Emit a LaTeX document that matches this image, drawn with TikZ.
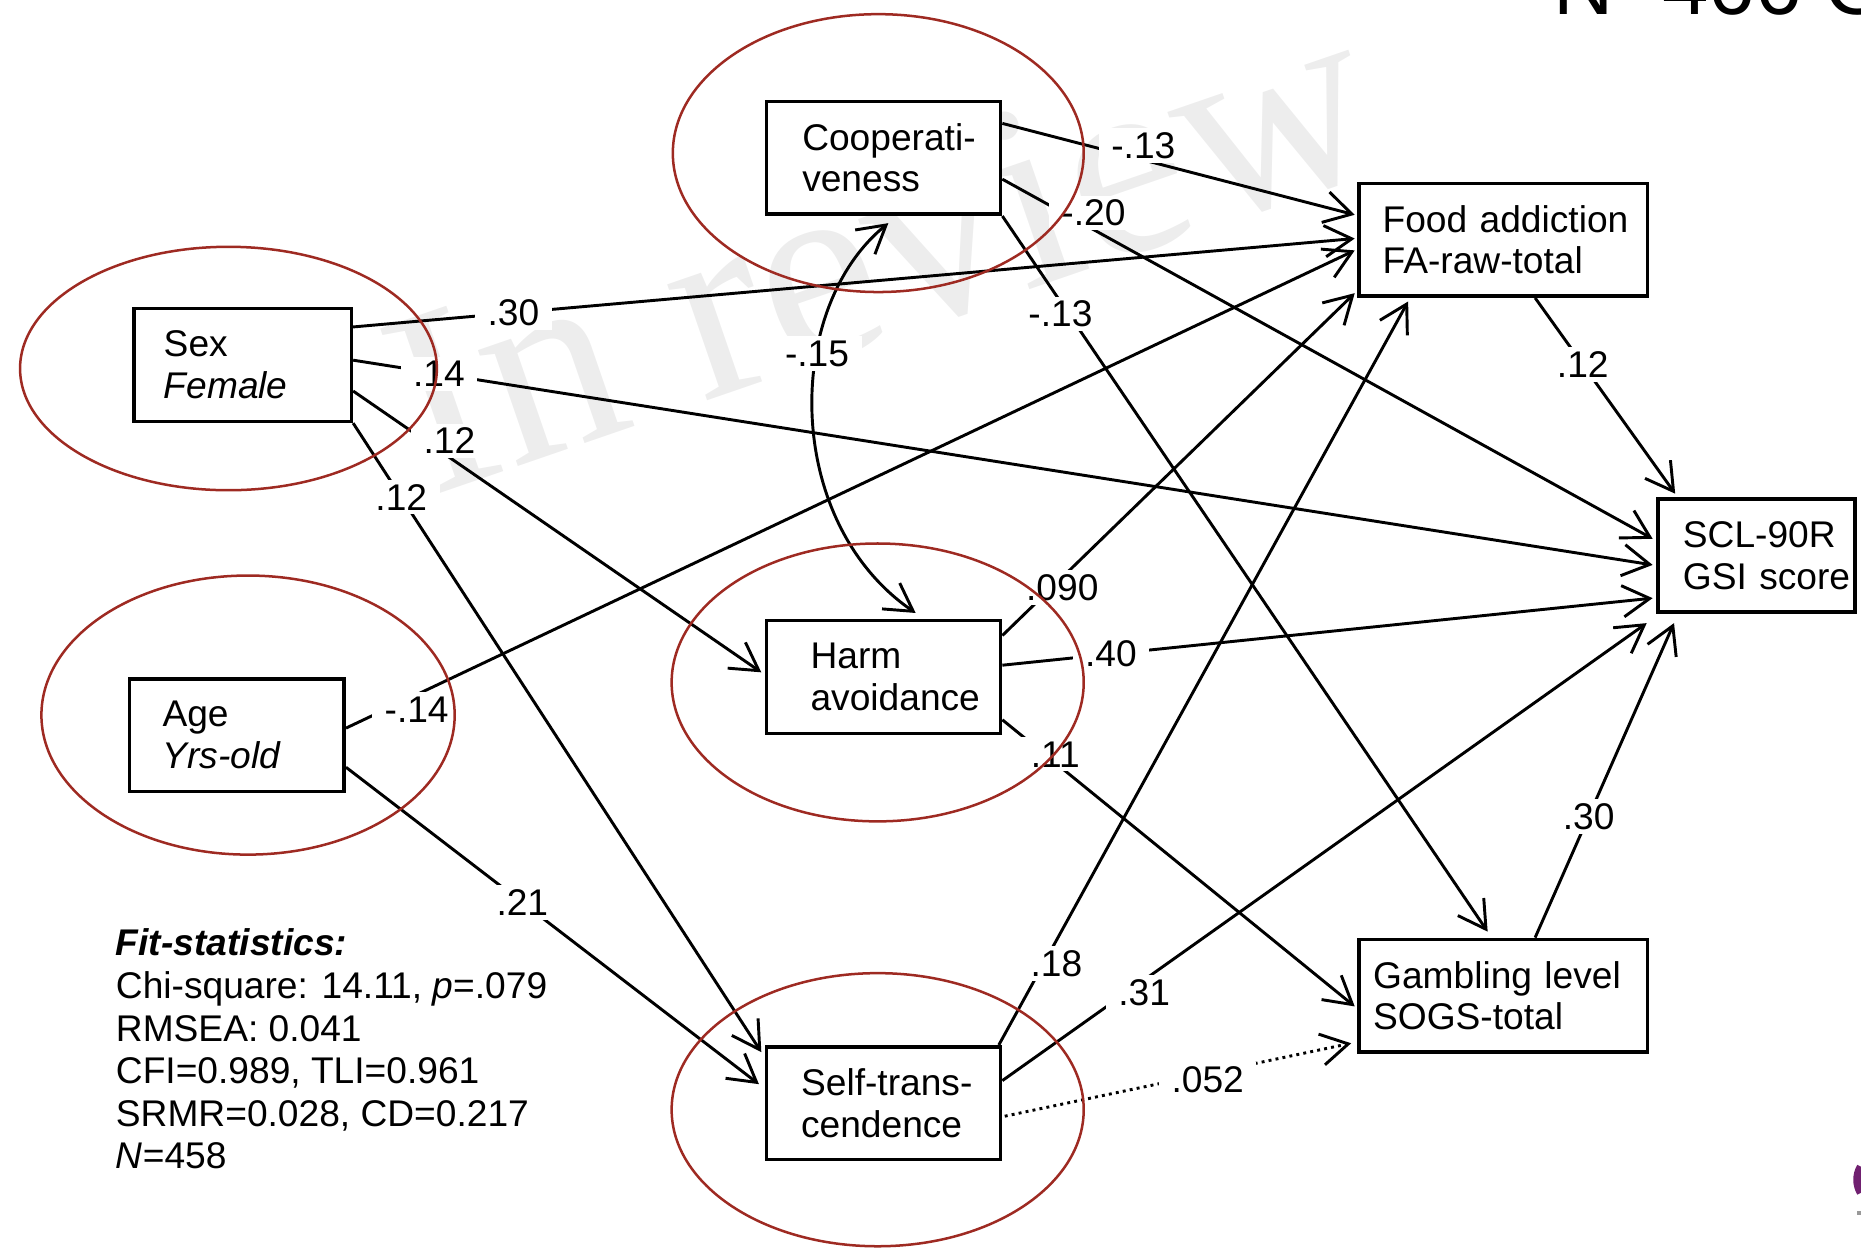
\documentclass[tikz,border=0pt]{standalone}
\usepackage{fontspec}
\setmainfont{Liberation Sans}
\newfontfamily\wmfont{Liberation Serif}
\usetikzlibrary{arrows.meta,calc}
\definecolor{ringred}{RGB}{158,42,34}
\definecolor{logopurple}{RGB}{112,32,112}
\newcommand\fs{\fontsize{8.9}{10}\selectfont}

\begin{document}
\begin{tikzpicture}[x=0.01cm, y=-0.01cm,
  var/.style={draw, line width=0.85pt, fill=white, align=left, inner sep=0pt,
    font=\fs, minimum height=0.95cm},
  pad/.style={execute at begin node={\leftskip=#1\relax}},
  eff/.style={line width=0.7pt, -{Straight Barb[length=6.5pt,width=7.5pt]}},
  coef/.style={fill=white, inner xsep=3pt, inner ysep=1pt, font=\fs},
  ring/.style={draw=ringred, line width=0.6pt}]

\clip (0,0) rectangle (1568,1052); %% page

%% watermark
\node[rotate=19, text=black!7, font=\wmfont\fontsize{64}{64}\selectfont]
  (wm) at (742,210) {In review};

%% heading, cut by the top edge
\node[anchor=base west, inner sep=0pt, font=\fontsize{20}{20}\selectfont]
  (head) at (1308,12.5) {N=466 G};

%% variables
\node[var, text width=1.97cm, pad=0.30cm] (coop) at (744.5,133) {Cooperati-\\veness};
\node[var, text width=2.43cm, pad=0.20cm] (food) at (1266.5,202) {Food addiction\\FA-raw-total};
\node[var, text width=1.66cm, pad=0.21cm] (scl) at (1480,468) {SCL-90R\\GSI score};
\node[var, text width=1.83cm, pad=0.25cm] (sex) at (204.5,307.5) {Sex\\\textit{Female}};
\node[var, text width=1.81cm, pad=0.28cm] (age) at (199.5,619.5) {Age\\\textit{Yrs-old}};
\node[var, text width=1.97cm, pad=0.37cm] (harm) at (744.5,570.5) {Harm\\avoidance};
\node[var, text width=1.97cm, pad=0.29cm] (self) at (744.5,929.5) {Self-trans-\\cendence};
\node[var, text width=2.43cm, pad=0.12cm] (gamb) at (1266.5,839) {Gambling level\\SOGS-total};

%% paths into food addiction
\draw[eff] ($(coop.north east)+(0,20)$) -- node[coef, pos=0.40, yshift=3.5pt] (c1) {-.13} ($(food.north west)+(-2,28)$);
\draw[eff] ($(sex.north east)+(0,17)$) -- node[coef, pos=0.16] (c2) {.30} ($(food.north west)+(-2,48)$);
\draw[eff] ($(age.north east)+(0,43)$) -- node[coef, pos=0.07, yshift=-3.5pt] (c3) {-.14} ($(food.north west)+(-2,58)$);
\draw[eff] ($(harm.north east)+(0,14)$) -- node[coef, pos=0.17, yshift=-2.5pt] (c4) {.090} ($(food.south west)+(-2,-4)$);
\draw[eff] ($(self.north east)+(-3,0)$) -- node[coef, pos=0.11, xshift=3pt] (c5) {.18} ($(food.south west)+(43,3)$);

%% paths into SCL-90R
\draw[eff] ($(food.south west)+(150,0)$) -- node[coef, pos=0.34] (c6) {.12} ($(scl.north west)+(16,-3)$);
\draw[eff] ($(coop.north east)+(0,67)$) -- node[coef, pos=0.14, yshift=4pt] (c7) {-.20} ($(scl.north west)+(-3,35)$);
\draw[eff] ($(sex.north east)+(0,45)$) -- node[coef, pos=0.066] (c8) {.14} ($(scl.north west)+(-3,57)$);
\draw[eff] ($(harm.north east)+(0,39)$) -- node[coef, pos=0.167] (c9) {.40} ($(scl.north west)+(-3,85)$);
\draw[eff] ($(self.north east)+(0,30)$) -- node[coef, pos=0.22, yshift=-3pt] (c10) {.31} ($(scl.south west)+(-8,8)$);
\draw[eff] ($(gamb.north west)+(150,0)$) -- node[coef, pos=0.385] (c11) {.30} ($(scl.south west)+(15,8)$);

%% paths into gambling level
\draw[eff] (coop.south east) -- node[coef, pos=0.137, xshift=-2pt] (c12) {-.13} ($(gamb.north west)+(110,-5)$);
\draw[eff] ($(harm.north east)+(0,85)$) -- node[coef, pos=0.15, yshift=2pt] (c13) {.11} ($(gamb.north west)+(-2,58)$);
\draw[eff, densely dotted] ($(self.north east)+(2,60)$) -- node[coef, pos=0.586, yshift=-1.5pt] (c14) {.052} ($(gamb.south west)+(-5,-9)$);

%% paths into harm avoidance and self-transcendence
\draw[eff] ($(sex.north east)+(0,71)$) -- node[coef, pos=0.236, yshift=4pt] (c15) {.12} ($(harm.north west)+(-3,45)$);
\draw[eff] (sex.south east) -- node[coef, pos=0.118] (c16) {.12} ($(self.north west)+(-3,6)$);
\draw[eff] ($(age.north east)+(0,76)$) -- node[coef, pos=0.427] (c17) {.21} ($(self.north west)+(-5,33)$);

%% correlation
\draw[eff, {Straight Barb[length=6.5pt,width=7.5pt]}-{Straight Barb[length=6.5pt,width=7.5pt]}]
  ($(coop.south)+(4,6)$) .. controls (660,260) and (660,440) ..
  node[coef, pos=0.36] (c18) {-.15} ($(harm.north)+(27,-5)$);

%% fit statistics
\node[anchor=north west, align=left, inner sep=0pt, font=\fontsize{8.9}{10.2}\selectfont]
  (fit) at (97,782) {\textbf{\textit{Fit-statistics:}}\\
  Chi-square: 14.11, \textit{p}=.079\\
  RMSEA: 0.041\\
  CFI=0.989, TLI=0.961\\
  SRMR=0.028, CD=0.217\\
  \textit{N}=458};

%% red rings
\draw[ring] (740,129) ellipse [x radius=1.73cm, y radius=1.17cm];
\draw[ring] (192.5,310.5) ellipse [x radius=1.755cm, y radius=1.025cm];
\draw[ring] (209,602.5) ellipse [x radius=1.74cm, y radius=1.175cm];
\draw[ring] (739.5,575) ellipse [x radius=1.735cm, y radius=1.17cm];
\draw[ring] (739.5,935) ellipse [x radius=1.735cm, y radius=1.15cm];

%% logo fragment at the right edge
\draw[logopurple, line width=2pt] (1568,983) .. controls (1564,990) and (1564,998) .. (1568,1005);
\draw[black!40, line width=1pt] (1565,1022) -- (1568,1022);

\end{tikzpicture}
\end{document}
